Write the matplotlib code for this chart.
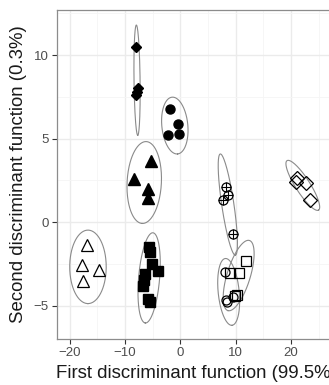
import numpy as np
import matplotlib.pyplot as plt
from matplotlib.ticker import MultipleLocator

plt.rcParams['font.family'] = ['Liberation Sans', 'DejaVu Sans']

# group points (LD1, LD2)
diam_f_x = [-8.0, -7.6, -8.1, -7.8]
diam_f_y = [10.5, 8.0, 7.6, 7.8]
circ_f_x = [-1.8, -0.5, -2.3, -0.2]
circ_f_y = [6.76, 5.86, 5.24, 5.28]
tri_f_x = [-5.3, -8.3, -5.9, -5.9]
tri_f_y = [3.68, 2.56, 2.0, 1.42]
tri_o_x = [-16.9, -17.7, -14.7, -17.6]
tri_o_y = [-1.38, -2.58, -2.84, -3.52]
sq_f_x = [-5.7, -5.4, -5.1, -4.1, -6.3, -6.6, -6.7, -5.9, -5.5]
sq_f_y = [-1.48, -1.78, -2.48, -2.92, -3.08, -3.48, -3.84, -4.58, -4.78]
cross_x = [8.3, 8.7, 7.8, 9.5]
cross_y = [2.08, 1.62, 1.32, -0.72]
sq_o_x = [11.9, 10.7, 8.9, 10.2, 9.8]
sq_o_y = [-2.34, -3.04, -3.04, -4.34, -4.4]
circ_o_x = [8.1, 8.3, 8.4, 9.6]
circ_o_y = [-2.98, -4.64, -4.78, -4.5]
diam_o_x = [21.1, 21.0, 22.8, 23.5]
diam_o_y = [2.62, 2.42, 2.32, 1.32]

# ellipses: major-axis end points (data) and minor half width (x units)
ell_x1 = [-7.95, -1.5, -6.15, -16.7, -4.95, 7.23, 12.5, 8.14, 19.3]
ell_y1 = [11.8, 7.48, 4.82, -0.48, -0.64, 4.08, -1.1, -2.18, 3.68]
ell_x2 = [-7.7, -0.49, -6.9, -16.7, -6.33, 9.95, 8.6, 9.35, 25.0]
ell_y2 = [5.2, 4.08, -0.08, -4.88, -6.04, -1.98, -5.3, -6.18, 0.72]
ell_w = [0.55, 2.35, 3.1, 3.3, 1.9, 1.1, 2.1, 1.9, 1.3]

xmin, xmax = -22.3, 28.0
ymin, ymax = -7.0, 12.7

fig = plt.figure(figsize=(3.29, 3.85), dpi=100)
ax = fig.add_axes([57/329, 46/385, (xmax - xmin)*5.53/329, 329/385])
ax.set_xlim(xmin, xmax)
ax.set_ylim(ymin, ymax)

ax.xaxis.set_major_locator(MultipleLocator(10))
ax.xaxis.set_minor_locator(MultipleLocator(5))
ax.yaxis.set_major_locator(MultipleLocator(5))
ax.yaxis.set_minor_locator(MultipleLocator(2.5))
ax.grid(which='major', color='#ebebeb', lw=1.0, zorder=0)
ax.grid(which='minor', color='#f5f5f5', lw=0.6, zorder=0)
ax.set_axisbelow(True)
for s in ax.spines.values():
    s.set_color('#8c8c8c')
    s.set_linewidth(0.9)
ax.tick_params(which='major', length=3.5, width=0.8, color='#333333',
               labelsize=9.5, labelcolor='#4d4d4d', pad=2.5)
ax.tick_params(which='minor', length=0)

# ellipses
sx = 5.53
sy = 16.67
t = np.linspace(0, 2*np.pi, 200)
for x1, y1, x2, y2, w in zip(ell_x1, ell_y1, ell_x2, ell_y2, ell_w):
    cx, cy = (x1 + x2)/2, (y1 + y2)/2
    ux, uy = (x2 - x1)/2, (y2 - y1)/2
    dx, dy = ux*sx, uy*sy
    n = np.hypot(dx, dy)
    px, py = -dy/n*w*sx, dx/n*w*sx
    vx, vy = px/sx, py/sy
    ax.plot(cx + ux*np.cos(t) + vx*np.sin(t), cy + uy*np.cos(t) + vy*np.sin(t),
            color='#8a8a8a', lw=0.8, zorder=2)

k = dict(linestyle='none', zorder=3)
ax.plot(diam_f_x, diam_f_y, marker='D', ms=5, color='black', **k)
ax.plot(circ_f_x, circ_f_y, marker='o', ms=6.5, color='black', **k)
ax.plot(tri_f_x, tri_f_y, marker='^', ms=8.5, color='black', **k)
ax.plot(tri_o_x, tri_o_y, marker='^', ms=8, mfc='white', mec='black', mew=0.9, **k)
ax.plot(sq_f_x, sq_f_y, marker='s', ms=6.5, color='black', **k)
ax.plot(cross_x, cross_y, marker='o', ms=6.5, mfc='none', mec='black', mew=0.9, **k)
ax.plot(cross_x, cross_y, marker='+', ms=6.5, mec='black', mew=0.8, **k)
ax.plot(sq_o_x, sq_o_y, marker='s', ms=6.5, mfc='none', mec='black', mew=0.9, **k)
ax.plot(circ_o_x, circ_o_y, marker='o', ms=6.5, mfc='none', mec='black', mew=0.9, **k)
ax.plot(diam_o_x, diam_o_y, marker='D', ms=7, mfc='none', mec='black', mew=0.9, **k)

ax.set_xlabel('First discriminant function (99.5%)', fontsize=13.4, color='#1a1a1a', labelpad=4)
ax.set_ylabel('Second discriminant function (0.3%)', fontsize=13.4, color='#1a1a1a', labelpad=5)

fig.savefig('out.png', dpi=100)
